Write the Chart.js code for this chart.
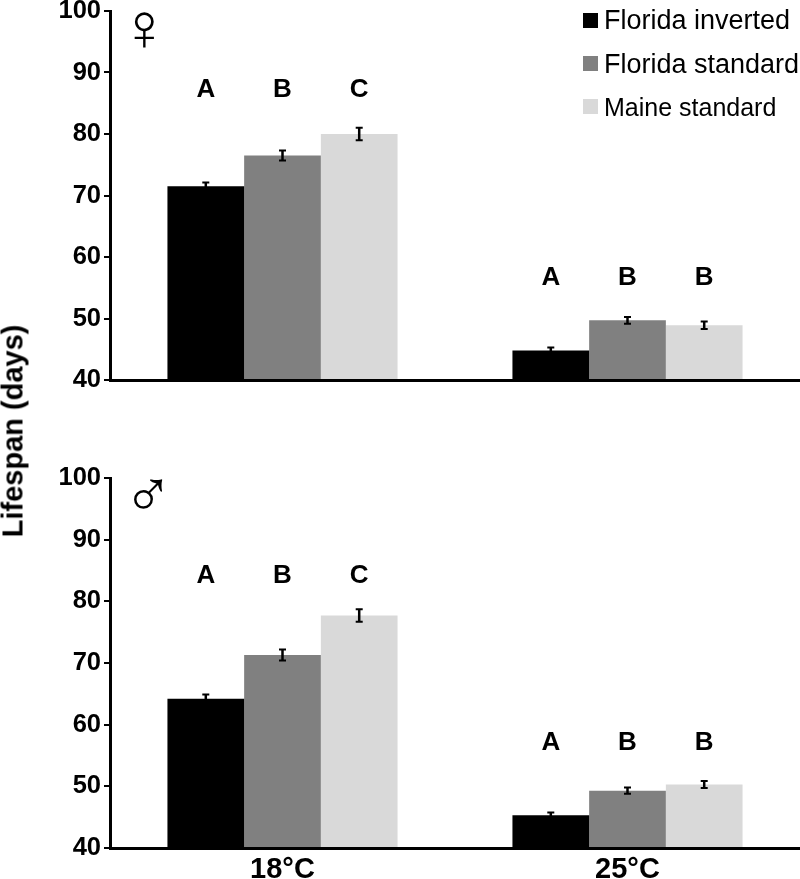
<!DOCTYPE html>
<html lang="en">
<head>
<meta charset="UTF-8">
<title>Lifespan by temperature</title>
<style>
    html, body { margin: 0; padding: 0; background: #fff; }
    body { width: 800px; height: 879px; position: relative; overflow: hidden; font-family: "Liberation Sans", Arial, sans-serif; color: #000; }
    canvas { position: absolute; left: 0; }
    #topChart { top: -30px; }
    #bottomChart { top: 430px; }
    #yTitle { position: absolute; left: 13px; top: 431px; font-weight: bold; font-size: 29px; white-space: nowrap; transform: translate(-50%, -50%) rotate(-90deg); }
    .sex { position: absolute; font-family: "Liberation Sans"; line-height: 1; font-size: 67px; }
    .legendRow { position: absolute; left: 583px; height: 26px; white-space: nowrap; font-size: 27px; line-height: 26px; }
    .legendRow:last-child { font-size: 25px; }
    .legendRow i { position: absolute; left: 0; top: 4px; width: 15px; height: 15px; }
    .legendRow span { position: absolute; left: 21px; top: -2px; }
</style>
<script src="https://cdn.jsdelivr.net/npm/chart.js"></script>
</head>
<body>
<canvas id="topChart" width="800" height="450"></canvas>
<canvas id="bottomChart" width="800" height="449"></canvas>
<div id="yTitle">Lifespan (days)</div>
<div class="sex" style="left:119px;top:-7px">♀</div>
<div class="sex" style="left:123px;top:460px">♂</div>
<div id="legend"></div>

<script>
    const categories = ['18°C', '25°C'];
    const seriesNames = ['Florida inverted', 'Florida standard', 'Maine standard'];
    const seriesColors = ['#000000', '#808080', '#d9d9d9'];
    const yTicks = [40, 50, 60, 70, 80, 90, 100];

    // female panel, one row per series
    const femaleInverted = [71.5, 44.8];
    const femaleFlorida = [76.5, 49.7];
    const femaleMaine = [80.0, 48.9];
    const femaleInvertedErr = [0.6, 0.5];
    const femaleFloridaErr = [0.8, 0.55];
    const femaleMaineErr = [1.0, 0.6];
    const femaleLetters = [['A', 'A'], ['B', 'B'], ['C', 'B']];
    const femaleLetterY = [87.2, 56.6];

    // male panel
    const maleInverted = [64.2, 45.3];
    const maleFlorida = [71.3, 49.3];
    const maleMaine = [77.7, 50.3];
    const maleInvertedErr = [0.7, 0.45];
    const maleFloridaErr = [0.9, 0.5];
    const maleMaineErr = [1.0, 0.55];
    const maleLetters = [['A', 'A'], ['B', 'B'], ['C', 'B']];
    const maleLetterY = [84.1, 57.1];

    // error bars and significance letters, positioned from the chart's own scale
    const annotations = {
        id: 'annotations',
        afterDatasetsDraw(chart, args, opts) {
            const ctx = chart.ctx;
            const y = chart.scales.y;
            ctx.save();
            chart.data.datasets.forEach((ds, i) => {
                chart.getDatasetMeta(i).data.forEach((bar, j) => {
                    const hi = y.getPixelForValue(ds.data[j] + opts.errors[i][j]);
                    const lo = y.getPixelForValue(ds.data[j] - opts.errors[i][j]);
                    ctx.strokeStyle = '#000';
                    ctx.lineWidth = 2.5;
                    ctx.beginPath();
                    ctx.moveTo(bar.x, hi); ctx.lineTo(bar.x, lo);
                    ctx.stroke();
                    ctx.lineWidth = 2;
                    ctx.beginPath();
                    ctx.moveTo(bar.x - 3.5, hi); ctx.lineTo(bar.x + 3.5, hi);
                    ctx.moveTo(bar.x - 3.5, lo); ctx.lineTo(bar.x + 3.5, lo);
                    ctx.stroke();
                    ctx.fillStyle = '#000';
                    ctx.font = 'bold 26px "Liberation Sans"';
                    ctx.textAlign = 'center';
                    ctx.textBaseline = 'middle';
                    ctx.fillText(opts.letters[i][j], bar.x, y.getPixelForValue(opts.letterY[j]));
                });
            });
            ctx.restore();
        }
    };

    function makePanel(id, values, errors, letters, letterY, padTop, xHeight, showLabels) {
        new Chart(document.getElementById(id), {
            type: 'bar',
            data: {
                labels: categories,
                datasets: seriesNames.map((name, i) => ({
                    label: name,
                    data: values[i],
                    backgroundColor: seriesColors[i],
                    categoryPercentage: 0.667,
                    barPercentage: 1
                }))
            },
            plugins: [annotations],
            options: {
                responsive: false,
                animation: false,
                layout: { padding: { top: padTop, left: 0, right: 0, bottom: 0 } },
                plugins: {
                    legend: { display: false },
                    tooltip: { enabled: false },
                    annotations: { errors, letters, letterY }
                },
                scales: {
                    x: {
                        afterFit(scale) { scale.height = xHeight; },
                        grid: { display: false },
                        border: { color: '#000', width: 3, z: 2 },
                        ticks: {
                            display: showLabels,
                            color: '#000',
                            font: { family: 'Liberation Sans', weight: 'bold', size: 29 },
                            padding: -3
                        }
                    },
                    y: {
                        min: 40,
                        max: 100,
                        afterFit(scale) { scale.width = 110; },
                        afterBuildTicks(scale) { scale.ticks = yTicks.map(v => ({ value: v })); },
                        grid: { drawOnChartArea: false, color: '#000', lineWidth: 2, tickLength: 6 },
                        border: { color: '#000', width: 3 },
                        ticks: {
                            color: '#000',
                            font: { family: 'Liberation Sans', weight: 'bold', size: 25.5 },
                            padding: 3
                        }
                    }
                }
            }
        });
    }

    makePanel('topChart',
        [femaleInverted, femaleFlorida, femaleMaine],
        [femaleInvertedErr, femaleFloridaErr, femaleMaineErr],
        femaleLetters, femaleLetterY, 41, 40, false);
    makePanel('bottomChart',
        [maleInverted, maleFlorida, maleMaine],
        [maleInvertedErr, maleFloridaErr, maleMaineErr],
        maleLetters, maleLetterY, 48, 31, true);

    // legend rows
    const legendTops = [9, 52, 95];
    const legendTextShift = [0, 1, 1];
    document.getElementById('legend').innerHTML = seriesNames.map((name, i) =>
        `<div class="legendRow" style="top:${legendTops[i]}px"><i style="background:${seriesColors[i]}"></i><span style="margin-top:${legendTextShift[i]}px">${name}</span></div>`
    ).join('');
</script>
</body>
</html>
